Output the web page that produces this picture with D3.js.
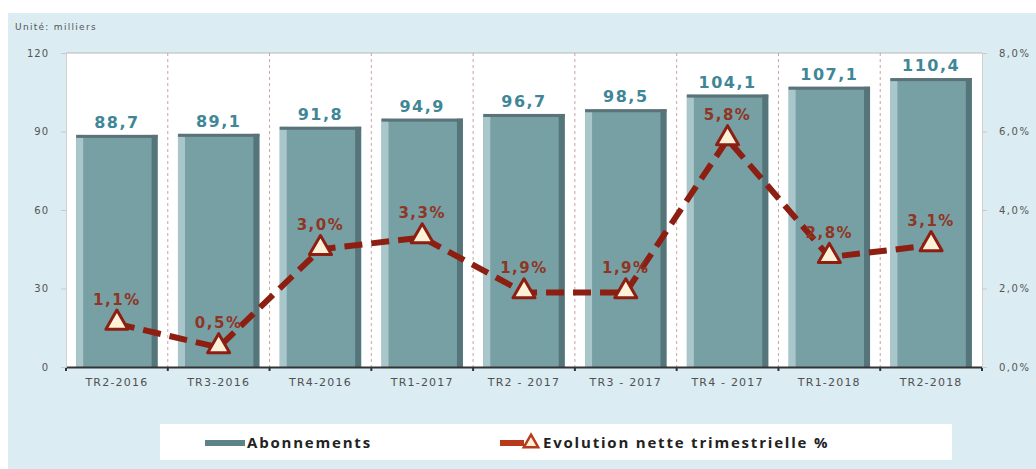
<!DOCTYPE html>
<html>
<head>
<meta charset="utf-8">
<script src="https://cdn.jsdelivr.net/npm/d3@7"></script>
<style>
  body { margin: 0; background: #ffffff; }
  #canvas { width: 1036px; height: 469px; }
</style>
</head>
<body>
<div id="canvas"></div>
<script>
"use strict"

// Data
let categories = ["TR2-2016", "TR3-2016", "TR4-2016", "TR1-2017", "TR2 - 2017",
                  "TR3 - 2017", "TR4 - 2017", "TR1-2018", "TR2-2018"];
let abonnements = [88.7, 89.1, 91.8, 94.9, 96.7, 98.5, 104.1, 107.1, 110.4];
let evolution = [1.1, 0.5, 3.0, 3.3, 1.9, 1.9, 5.8, 2.8, 3.1];
let leftTicks = [0, 30, 60, 90, 120];
let rightTicks = [0, 2, 4, 6, 8];

let svgWidth = 1036;
let svgHeight = 469;
let plot = { left: 66, right: 982, top: 53, bottom: 367 };

let svg = d3.select("#canvas").append("svg")
    .attr("width", svgWidth)
    .attr("height", svgHeight);

// light blue panel
svg.append("rect").attr("width", svgWidth).attr("height", svgHeight).attr("fill", "#ffffff");
svg.append("rect")
    .attr("x", 8).attr("y", 13)
    .attr("width", svgWidth - 8).attr("height", svgHeight - 13)
    .attr("fill", "#dbecf2");

// plot background
svg.append("rect")
    .attr("x", plot.left).attr("y", plot.top)
    .attr("width", plot.right - plot.left).attr("height", plot.bottom - plot.top)
    .attr("fill", "#ffffff");

let xScale = d3.scaleBand()
    .domain(categories)
    .range([plot.left, plot.right])
    .paddingInner(0.2)
    .paddingOuter(0.1);

let yScale = d3.scaleLinear().domain([0, 120]).range([plot.bottom, plot.top]);
let y2Scale = d3.scaleLinear().domain([0, 8]).range([plot.bottom, plot.top]);

let step = xScale.step();
let bw = xScale.bandwidth();

function fmt(d) { return d.toFixed(1).replace(".", ","); }

// top border line
svg.append("line")
    .attr("x1", plot.left).attr("x2", plot.right)
    .attr("y1", yScale(120)).attr("y2", yScale(120))
    .attr("stroke", "#b8b8b8").attr("stroke-width", 1);

// vertical dashed separators
for (let i = 1; i < categories.length; i++) {
    let gx = plot.left + i * step;
    svg.append("line")
        .attr("x1", gx).attr("x2", gx)
        .attr("y1", plot.top).attr("y2", plot.bottom)
        .attr("stroke", "#c9a3a3")
        .attr("stroke-width", 1)
        .attr("stroke-dasharray", "3,3");
}

// bars with a simple 3D look
let bars = svg.selectAll("g.bar")
    .data(abonnements)
    .join("g")
    .classed("bar", true);

bars.append("rect")
    .attr("x", function(d, i) { return xScale(categories[i]); })
    .attr("y", function(d) { return yScale(d); })
    .attr("width", bw)
    .attr("height", function(d) { return yScale(0) - yScale(d); })
    .attr("fill", "#77a0a5");

bars.append("rect") // light left strip
    .attr("x", function(d, i) { return xScale(categories[i]); })
    .attr("y", function(d) { return yScale(d); })
    .attr("width", 7)
    .attr("height", function(d) { return yScale(0) - yScale(d); })
    .attr("fill", "#a9c7cb");

bars.append("rect") // dark right strip
    .attr("x", function(d, i) { return xScale(categories[i]) + bw - 6; })
    .attr("y", function(d) { return yScale(d); })
    .attr("width", 6)
    .attr("height", function(d) { return yScale(0) - yScale(d); })
    .attr("fill", "#55757a");

bars.append("rect") // top edge
    .attr("x", function(d, i) { return xScale(categories[i]); })
    .attr("y", function(d) { return yScale(d); })
    .attr("width", bw)
    .attr("height", 3)
    .attr("fill", "#5b7378");

bars.append("text")
    .attr("x", function(d, i) { return xScale(categories[i]) + bw / 2; })
    .attr("y", function(d) { return yScale(d) - 7; })
    .attr("text-anchor", "middle")
    .style("font-family", "DejaVu Sans")
    .style("font-weight", "bold")
    .style("font-size", "16px")
    .style("letter-spacing", "1.5px")
    .attr("fill", "#3f8797")
    .text(fmt);

// axes
let xAxis = d3.axisBottom(xScale).tickSize(0).tickPadding(11);
let gx = svg.append("g")
    .attr("transform", "translate(0," + plot.bottom + ")")
    .call(xAxis);
gx.select(".domain").attr("stroke", "#333").attr("stroke-width", 2);
gx.selectAll("text")
    .style("font-family", "DejaVu Sans")
    .style("font-size", "11px")
    .style("letter-spacing", "1.2px")
    .attr("fill", "#505050");
for (let i = 0; i <= categories.length; i++) {
    gx.append("line")
        .attr("x1", plot.left + i * step).attr("x2", plot.left + i * step)
        .attr("y1", 0).attr("y2", 4)
        .attr("stroke", "#333").attr("stroke-width", 2);
}

let yAxis = d3.axisLeft(yScale).tickValues(leftTicks).tickSize(5).tickPadding(12);
let gy = svg.append("g")
    .attr("transform", "translate(" + plot.left + ",0)")
    .call(yAxis);
gy.select(".domain").attr("stroke", "#d0d0d0");
gy.selectAll(".tick line").attr("stroke", "#c8c8c8");
gy.selectAll("text")
    .style("font-family", "DejaVu Sans")
    .style("font-size", "10px")
    .style("letter-spacing", "1px")
    .attr("fill", "#555");

let y2Axis = d3.axisRight(y2Scale).tickValues(rightTicks).tickSize(5).tickPadding(12)
    .tickFormat(function(d) { return fmt(d) + "%"; });
let gy2 = svg.append("g")
    .attr("transform", "translate(" + plot.right + ",0)")
    .call(y2Axis);
gy2.select(".domain").attr("stroke", "#d0d0d0");
gy2.selectAll(".tick line").attr("stroke", "#c8c8c8");
gy2.selectAll("text")
    .style("font-family", "DejaVu Sans")
    .style("font-size", "10px")
    .style("letter-spacing", "1.5px")
    .attr("fill", "#555");

// unit label
svg.append("text")
    .attr("x", 15).attr("y", 30)
    .style("font-family", "DejaVu Sans")
    .style("font-size", "9px")
    .style("letter-spacing", "1.3px")
    .attr("fill", "#555")
    .text("Unité: milliers");

// evolution line
let line = d3.line()
    .x(function(d, i) { return xScale(categories[i]) + bw / 2; })
    .y(function(d) { return y2Scale(d); });

svg.append("path")
    .datum(evolution)
    .attr("d", line)
    .attr("fill", "none")
    .attr("stroke", "#8c1f12")
    .attr("stroke-width", 6)
    .attr("stroke-dasharray", "18,9");

let tri = d3.symbol().type(d3.symbolTriangle).size(210);
svg.selectAll("path.marker")
    .data(evolution)
    .join("path")
    .classed("marker", true)
    .attr("d", tri)
    .attr("transform", function(d, i) {
        return "translate(" + (xScale(categories[i]) + bw / 2) + "," + (y2Scale(d) - 1) + ")";
    })
    .attr("fill", "#fdf1d8")
    .attr("stroke", "#8c1f12")
    .attr("stroke-width", 3)
    .attr("stroke-linejoin", "round");

svg.selectAll("text.pct")
    .data(evolution)
    .join("text")
    .classed("pct", true)
    .attr("x", function(d, i) { return xScale(categories[i]) + bw / 2; })
    .attr("y", function(d) { return y2Scale(d) - 19; })
    .attr("text-anchor", "middle")
    .style("font-family", "DejaVu Sans")
    .style("font-weight", "bold")
    .style("font-size", "15px")
    .style("letter-spacing", "1.5px")
    .attr("fill", "#8e3524")
    .text(function(d) { return fmt(d) + "%"; });

// legend
svg.append("rect")
    .attr("x", 160).attr("y", 424)
    .attr("width", 792).attr("height", 36)
    .attr("fill", "#ffffff");

svg.append("rect")
    .attr("x", 205).attr("y", 440)
    .attr("width", 40).attr("height", 6)
    .attr("fill", "#5d8287");

svg.append("text")
    .attr("x", 247).attr("y", 448)
    .style("font-family", "Open Sans")
    .style("font-weight", "bold")
    .style("font-size", "15px")
    .style("letter-spacing", "1.8px")
    .attr("fill", "#222")
    .text("Abonnements");

svg.append("line")
    .attr("x1", 500).attr("x2", 524)
    .attr("y1", 443).attr("y2", 443)
    .attr("stroke", "#b83a1c").attr("stroke-width", 6);
svg.append("path")
    .attr("d", d3.symbol().type(d3.symbolTriangle).size(90))
    .attr("transform", "translate(531,443)")
    .attr("fill", "#fdf1d8")
    .attr("stroke", "#b83a1c")
    .attr("stroke-width", 2.5);

svg.append("text")
    .attr("x", 543).attr("y", 448)
    .style("font-family", "Open Sans")
    .style("font-weight", "bold")
    .style("font-size", "15px")
    .style("letter-spacing", "1.8px")
    .attr("fill", "#222")
    .text("Evolution nette trimestrielle %");
</script>
</body>
</html>
